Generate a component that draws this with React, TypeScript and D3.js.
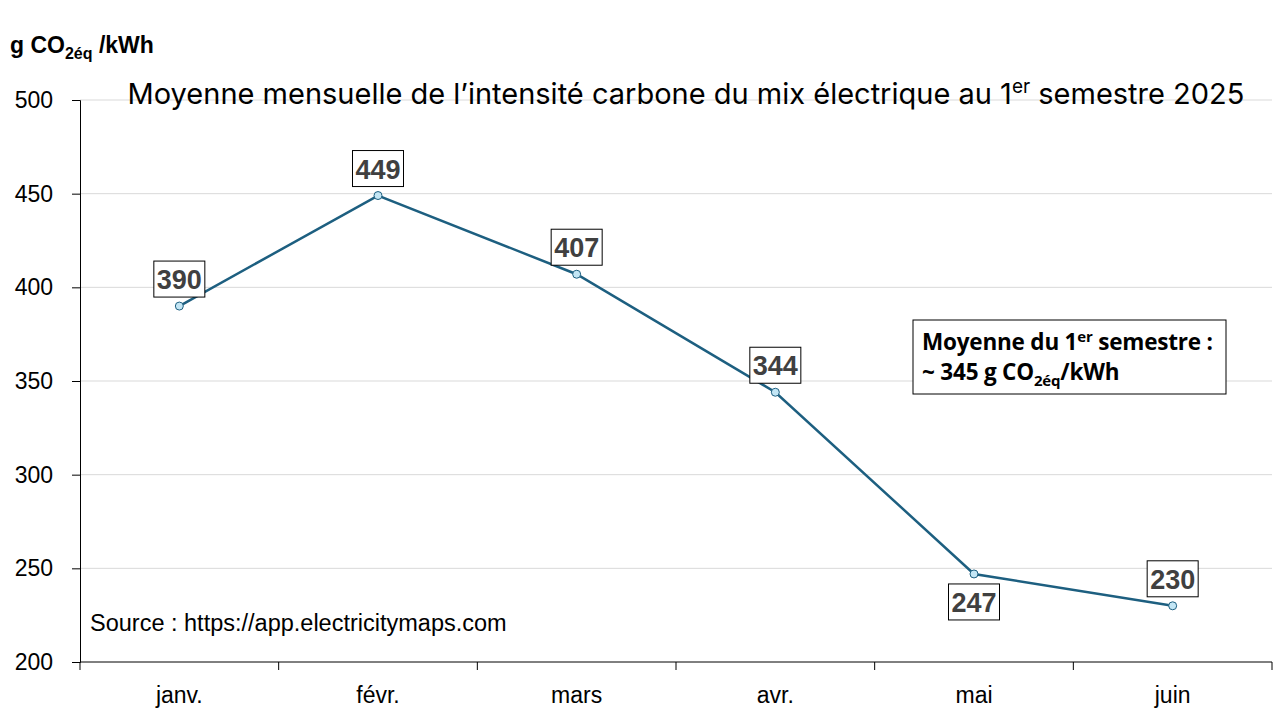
import React, { useEffect, useRef } from 'react';
import * as d3 from 'd3';

const months = ['janv.', 'févr.', 'mars', 'avr.', 'mai', 'juin'];
const intensity = [390, 449, 407, 344, 247, 230];
const labelBelow = [false, false, false, false, true, false];
const yTicks = [200, 250, 300, 350, 400, 450, 500];

const width = 1280;
const height = 720;

const App: React.FC = () => {
    const svgRef = useRef<SVGSVGElement | null>(null);

    useEffect(() => {
        const svg = d3.select(svgRef.current);
        svg.selectAll('*').remove();

        const margin = { top: 100, right: 8, bottom: 58, left: 80 };

        const x = d3.scaleBand<string>()
            .domain(months)
            .range([margin.left, width - margin.right]);

        const y = d3.scaleLinear()
            .domain([200, 500])
            .range([height - margin.bottom, margin.top]);

        // grid
        svg.append('g')
            .selectAll('line')
            .data(yTicks.slice(1))
            .join('line')
            .attr('x1', margin.left)
            .attr('x2', width - margin.right)
            .attr('y1', d => y(d))
            .attr('y2', d => y(d))
            .attr('stroke', '#d9d9d9')
            .attr('stroke-width', 1);

        // y axis
        const yAxis = svg.append('g')
            .attr('transform', `translate(${margin.left},0)`)
            .call(d3.axisLeft(y).tickValues(yTicks).tickSize(8).tickPadding(19));
        yAxis.select('.domain').attr('stroke', '#000');
        yAxis.selectAll('.tick line').attr('stroke', '#000');
        yAxis.selectAll('.tick text')
            .attr('font-family', 'Liberation Sans, Arial, sans-serif')
            .attr('font-size', 23)
            .attr('fill', '#000');

        // x axis
        const xAxisG = svg.append('g')
            .attr('transform', `translate(0,${y(200)})`);
        xAxisG.append('line')
            .attr('x1', margin.left).attr('x2', width - margin.right)
            .attr('stroke', '#000');
        const bounds = months.map(m => x(m)!).concat([x(months[months.length - 1])! + x.bandwidth()]);
        xAxisG.selectAll('line.tk')
            .data(bounds)
            .join('line')
            .attr('class', 'tk')
            .attr('x1', d => d).attr('x2', d => d)
            .attr('y1', 0).attr('y2', 8)
            .attr('stroke', '#000');
        xAxisG.selectAll('text')
            .data(months)
            .join('text')
            .attr('x', d => x(d)! + x.bandwidth() / 2)
            .attr('y', 41)
            .attr('text-anchor', 'middle')
            .attr('font-family', 'Liberation Sans, Arial, sans-serif')
            .attr('font-size', 23)
            .attr('fill', '#000')
            .text(d => d);

        // line
        const cx = (i: number) => x(months[i])! + x.bandwidth() / 2;
        const line = d3.line<number>()
            .x((_, i) => cx(i))
            .y(d => y(d));

        svg.append('path')
            .datum(intensity)
            .attr('d', line)
            .attr('fill', 'none')
            .attr('stroke', '#1d5f80')
            .attr('stroke-width', 2.5);

        svg.append('g')
            .selectAll('circle')
            .data(intensity)
            .join('circle')
            .attr('cx', (_, i) => cx(i))
            .attr('cy', d => y(d))
            .attr('r', 4)
            .attr('fill', '#c3e6f5')
            .attr('stroke', '#1d5f80')
            .attr('stroke-width', 1);

        // data labels
        const labels = svg.append('g');
        intensity.forEach((v, i) => {
            const bw = 51, bh = 36;
            const bx = cx(i) - bw / 2;
            const by = labelBelow[i] ? y(v) + 10 : y(v) - 9 - bh;
            labels.append('rect')
                .attr('x', bx).attr('y', by)
                .attr('width', bw).attr('height', bh)
                .attr('fill', '#fff')
                .attr('stroke', '#000')
                .attr('stroke-width', 1);
            labels.append('text')
                .attr('x', cx(i))
                .attr('y', by + 28)
                .attr('text-anchor', 'middle')
                .attr('font-family', 'Liberation Sans, Arial, sans-serif')
                .attr('font-weight', 'bold')
                .attr('font-size', 27)
                .attr('fill', '#404040')
                .text(v);
        });

        // title
        const title = svg.append('text')
            .attr('x', 686)
            .attr('y', 104)
            .attr('text-anchor', 'middle')
            .attr('font-family', 'Inter, sans-serif')
            .attr('font-size', 29)
            .attr('fill', '#000');
        title.append('tspan').text('Moyenne mensuelle de l’intensité carbone du mix électrique au 1');
        title.append('tspan').attr('font-size', 19).attr('dy', -11).text('er');
        title.append('tspan').attr('dy', 11).text(' semestre 2025');

        // unit
        const unit = svg.append('text')
            .attr('x', 10)
            .attr('y', 53)
            .attr('font-family', 'Liberation Sans, Arial, sans-serif')
            .attr('font-weight', 'bold')
            .attr('font-size', 23)
            .attr('fill', '#000');
        unit.append('tspan').text('g CO');
        unit.append('tspan').attr('font-size', 16).attr('dy', 6).text('2éq');
        unit.append('tspan').attr('dy', -6).text(' /kWh');

        // annotation
        svg.append('rect')
            .attr('x', 913).attr('y', 320)
            .attr('width', 313).attr('height', 74)
            .attr('fill', '#fff')
            .attr('stroke', '#000')
            .attr('stroke-width', 1);
        const a1 = svg.append('text')
            .attr('x', 922).attr('y', 350)
            .attr('font-family', 'Open Sans, sans-serif')
            .attr('font-weight', 'bold')
            .attr('font-size', 22.5)
            .attr('letter-spacing', -0.2)
            .attr('fill', '#000');
        a1.append('tspan').text('Moyenne du 1');
        a1.append('tspan').attr('font-size', 15).attr('dy', -8).text('er');
        a1.append('tspan').attr('dy', 8).text(' semestre :');
        const a2 = svg.append('text')
            .attr('x', 922).attr('y', 380)
            .attr('font-family', 'Open Sans, sans-serif')
            .attr('font-weight', 'bold')
            .attr('font-size', 22.5)
            .attr('letter-spacing', -0.2)
            .attr('fill', '#000');
        a2.append('tspan').text('~ 345 g CO');
        a2.append('tspan').attr('font-size', 15).attr('dy', 6).text('2éq');
        a2.append('tspan').attr('dy', -6).text('/kWh');

        // source
        svg.append('text')
            .attr('x', 90).attr('y', 631)
            .attr('font-family', 'Liberation Sans, Arial, sans-serif')
            .attr('font-size', 23.5)
            .attr('fill', '#000')
            .text('Source : https://app.electricitymaps.com');
    }, []);

    return (
        <svg ref={svgRef} width={width} height={height}
            style={{ position: 'absolute', left: 0, top: 0, background: '#fff' }} />
    );
};

export default App;
